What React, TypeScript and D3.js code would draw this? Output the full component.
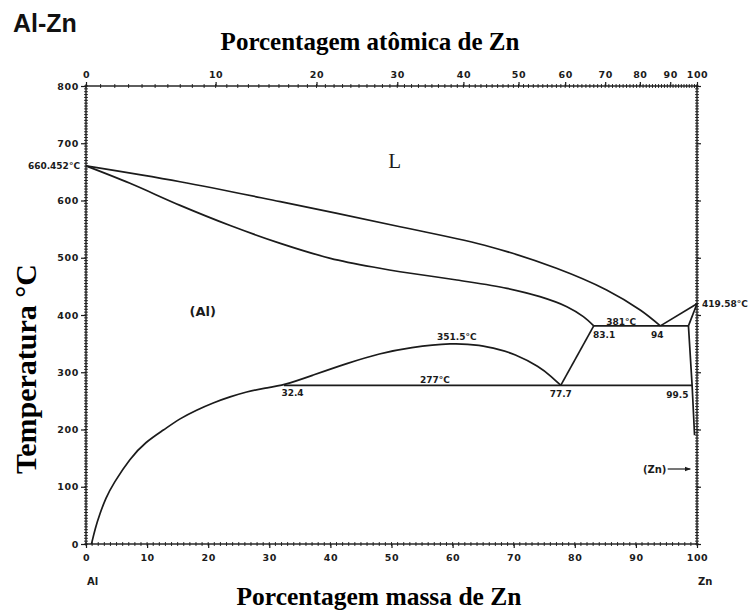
import React, { useEffect, useRef } from 'react';
import * as d3 from 'd3';

const W = 751, H = 613;

// boundaries, [wt% Zn, temperature °C]
const liquidusAl: [number, number][] = [
  [0, 660.452], [15.4, 632.8], [31.8, 597.9], [51.4, 554.2], [66.1, 519.3],
  [77, 481.6], [85.2, 443.7], [90.7, 408.7], [94, 381],
];
const solidusAl: [number, number][] = [
  [0, 660.452], [7.2, 630], [15.4, 591.5], [23.6, 556.3], [31.8, 525.2], [40, 499],
  [48.1, 481.6], [51.4, 475.6], [60.7, 461.1], [68.9, 446.6], [74.3, 432],
  [78.7, 414.5], [81.4, 397.1], [83.1, 381],
];
// solvus of (Al) running into the miscibility gap dome
const solvusAl: [number, number][] = [
  [0.9, 0], [1.5, 27.4], [2.3, 53.6], [3.2, 79.8], [4.5, 106], [7.2, 149.7],
  [9.8, 178.7], [12.7, 199.1], [15.4, 219.6], [18.1, 234], [20.8, 246.8],
  [23.6, 257.3], [26.3, 266], [29, 272], [32.4, 277], [37.2, 295.2], [42.7, 315.6],
  [48.1, 333.1], [53, 343.5], [60, 351.5], [64.5, 347.6], [67.8, 339], [69.9, 333],
  [74.3, 309.7], [76.2, 292], [77.7, 277],
];
const monotectoidEdge: [number, number][] = [[77.7, 277], [83.1, 381]];
const eutectoidLine: [number, number][] = [[32.4, 277], [99.2, 277]];
const monotectoidLine: [number, number][] = [[83.1, 381], [98.6, 381]];
const liquidusZn: [number, number][] = [[94, 381], [100, 419.58]];
const solidusZn: [number, number][] = [[98.6, 381], [100, 419.58]];
const solvusZn: [number, number][] = [[98.6, 381], [99.2, 277], [99.6, 190]];

const wtTicks = [0, 10, 20, 30, 40, 50, 60, 70, 80, 90, 100];
const atTicks = [0, 10, 20, 30, 40, 50, 60, 70, 80, 90, 100];
const tempTicks = [0, 100, 200, 300, 400, 500, 600, 700, 800];

// small annotations, anchored in data units
const notes: { text: string; wt: number; t: number; anchor: string; size: number; serif?: boolean }[] = [
  { text: 'L', wt: 50.5, t: 657, anchor: 'middle', size: 21, serif: true },
  { text: '(Al)', wt: 19.1, t: 398, anchor: 'middle', size: 13 },
  { text: '351.5°C', wt: 60.7, t: 356, anchor: 'middle', size: 9 },
  { text: '277°C', wt: 57.1, t: 281, anchor: 'middle', size: 9 },
  { text: '32.4', wt: 33.8, t: 258.5, anchor: 'middle', size: 9 },
  { text: '77.7', wt: 77.7, t: 257, anchor: 'middle', size: 9 },
  { text: '99.5', wt: 96.8, t: 255, anchor: 'middle', size: 9 },
  { text: '83.1', wt: 84.8, t: 360, anchor: 'middle', size: 9 },
  { text: '94', wt: 93.5, t: 360, anchor: 'middle', size: 9 },
  { text: '381°C', wt: 87.6, t: 382.5, anchor: 'middle', size: 9 },
];

// at% Zn -> wt% Zn
const atToWt = (a: number) => (a * 65.38) / (a * 65.38 + (100 - a) * 26.98) * 100;

export default function App() {
  const ref = useRef<SVGSVGElement>(null);

  useEffect(() => {
    const svg = d3.select(ref.current);
    svg.selectAll('*').remove();

    const x = d3.scaleLinear().domain([0, 100]).range([86, 697]);
    const y = d3.scaleLinear().domain([0, 800]).range([544, 86]);
    const ink = '#1b1b1b';
    const tickFont = 'DejaVu Sans, sans-serif';

    svg.append('rect').attr('width', W).attr('height', H).attr('fill', '#fff');

    // frame
    svg.append('rect')
      .attr('x', x(0)).attr('y', y(800))
      .attr('width', x(100) - x(0)).attr('height', y(0) - y(800))
      .attr('fill', 'none').attr('stroke', ink).attr('stroke-width', 1.4);

    // minor ticks, crossing the frame
    const minor = svg.append('g').attr('stroke', ink).attr('stroke-width', 0.9);
    d3.range(0, 801, 5).forEach(t => {
      minor.append('line').attr('x1', x(0) - 2).attr('x2', x(0) + 2).attr('y1', y(t)).attr('y2', y(t));
      minor.append('line').attr('x1', x(100) - 2).attr('x2', x(100) + 2).attr('y1', y(t)).attr('y2', y(t));
    });
    d3.range(0, 101, 1).forEach(w => {
      minor.append('line').attr('x1', x(w)).attr('x2', x(w)).attr('y1', y(0) - 2).attr('y2', y(0) + 2);
      minor.append('line').attr('x1', x(atToWt(w))).attr('x2', x(atToWt(w))).attr('y1', y(800) - 2).attr('y2', y(800) + 2);
    });

    const styleAxis = (g: any) => {
      g.select('.domain').remove();
      g.selectAll('line').attr('stroke', ink).attr('stroke-width', 1.2);
      g.selectAll('text').attr('font-family', tickFont).attr('font-weight', 'bold')
        .attr('font-size', 9.5).attr('letter-spacing', 0.6).attr('fill', ink);
    };

    svg.append('g').attr('transform', `translate(${x(0)},0)`)
      .call(d3.axisLeft(y).tickValues(tempTicks).tickSize(5).tickPadding(2))
      .call(styleAxis);
    svg.append('g').attr('transform', `translate(${x(100)},0)`)
      .call(d3.axisRight(y).tickValues(tempTicks).tickSize(4).tickFormat(() => ''))
      .call(styleAxis);
    svg.append('g').attr('transform', `translate(0,${y(0)})`)
      .call(d3.axisBottom(x).tickValues(wtTicks).tickSize(4).tickPadding(6))
      .call(styleAxis);
    svg.append('g').attr('transform', `translate(0,${y(800)})`)
      .call(d3.axisTop(x).tickValues(atTicks.map(atToWt)).tickSize(4).tickPadding(4)
        .tickFormat((d, i) => String(atTicks[i])))
      .call(styleAxis);

    // phase boundaries
    const smooth = d3.line<[number, number]>().x(d => x(d[0])).y(d => y(d[1]))
      .curve(d3.curveCatmullRom.alpha(0.5));
    const soft = d3.line<[number, number]>().x(d => x(d[0])).y(d => y(d[1]))
      .curve(d3.curveBasis);
    const straight = d3.line<[number, number]>().x(d => x(d[0])).y(d => y(d[1]));
    const curves = svg.append('g').attr('fill', 'none').attr('stroke', ink)
      .attr('stroke-width', 1.7).attr('stroke-linejoin', 'round');
    [liquidusAl, solidusAl].forEach(c => curves.append('path').attr('d', smooth(c)));
    curves.append('path').attr('d', soft(solvusAl));
    [monotectoidEdge, eutectoidLine, monotectoidLine, liquidusZn, solidusZn, solvusZn]
      .forEach(c => curves.append('path').attr('d', straight(c)));

    // annotations
    notes.forEach(n => {
      svg.append('text')
        .attr('x', x(n.wt)).attr('y', y(n.t))
        .attr('text-anchor', n.anchor)
        .attr('font-family', n.serif ? 'Liberation Serif, serif' : tickFont)
        .attr('font-weight', n.serif ? 'normal' : 'bold')
        .attr('font-size', n.size).attr('fill', ink)
        .text(n.text);
    });
    svg.append('text').attr('x', x(0) - 6).attr('y', y(660.452)).attr('dy', '0.35em')
      .attr('text-anchor', 'end').attr('font-family', tickFont).attr('font-weight', 'bold')
      .attr('font-size', 9).attr('fill', ink).text('660.452°C');
    svg.append('text').attr('x', x(100) + 5).attr('y', y(419.58)).attr('dy', '0.35em')
      .attr('font-family', tickFont).attr('font-weight', 'bold')
      .attr('font-size', 9).attr('fill', ink).text('419.58°C');

    // (Zn) arrow
    svg.append('defs').append('marker')
      .attr('id', 'arr').attr('viewBox', '0 0 10 10').attr('refX', 9).attr('refY', 5)
      .attr('markerWidth', 5).attr('markerHeight', 5).attr('orient', 'auto')
      .append('path').attr('d', 'M0,1L10,5L0,9z').attr('fill', ink);
    svg.append('line').attr('x1', x(95.2)).attr('x2', x(98.9)).attr('y1', y(131)).attr('y2', y(131))
      .attr('stroke', ink).attr('stroke-width', 1.2).attr('marker-end', 'url(#arr)');
    svg.append('text').attr('x', x(95)).attr('y', y(131)).attr('dy', '0.35em')
      .attr('text-anchor', 'end').attr('font-family', tickFont).attr('font-weight', 'bold')
      .attr('font-size', 10).attr('fill', ink).text('(Zn)');

    // element names under the axis ends
    svg.append('text').attr('x', x(0) + 1).attr('y', y(0) + 41)
      .attr('font-family', tickFont).attr('font-weight', 'bold').attr('font-size', 10)
      .attr('fill', ink).text('Al');
    svg.append('text').attr('x', x(100) + 1).attr('y', y(0) + 41)
      .attr('font-family', tickFont).attr('font-weight', 'bold').attr('font-size', 10)
      .attr('fill', ink).text('Zn');

    // titles
    svg.append('text').attr('x', 13).attr('y', 32)
      .attr('font-family', 'Liberation Sans, Arial, sans-serif').attr('font-weight', 'bold')
      .attr('font-size', 25).attr('fill', '#111').text('Al-Zn');
    svg.append('text').attr('x', 370).attr('y', 50).attr('text-anchor', 'middle')
      .attr('font-family', 'Liberation Serif, serif').attr('font-weight', 'bold')
      .attr('font-size', 25).attr('fill', '#000').text('Porcentagem atômica de Zn');
    svg.append('text').attr('x', 379).attr('y', 605).attr('text-anchor', 'middle')
      .attr('font-family', 'Liberation Serif, serif').attr('font-weight', 'bold')
      .attr('font-size', 25.5).attr('fill', '#000').text('Porcentagem massa de Zn');
    svg.append('text').attr('transform', 'translate(36,369) rotate(-90)')
      .attr('text-anchor', 'middle')
      .attr('font-family', 'Liberation Serif, serif').attr('font-weight', 'bold')
      .attr('font-size', 30).attr('fill', '#000').text('Temperatura °C');
  }, []);

  return (
    <svg ref={ref} width={W} height={H}
      style={{ position: 'absolute', left: 0, top: 0, display: 'block' }} />
  );
}
